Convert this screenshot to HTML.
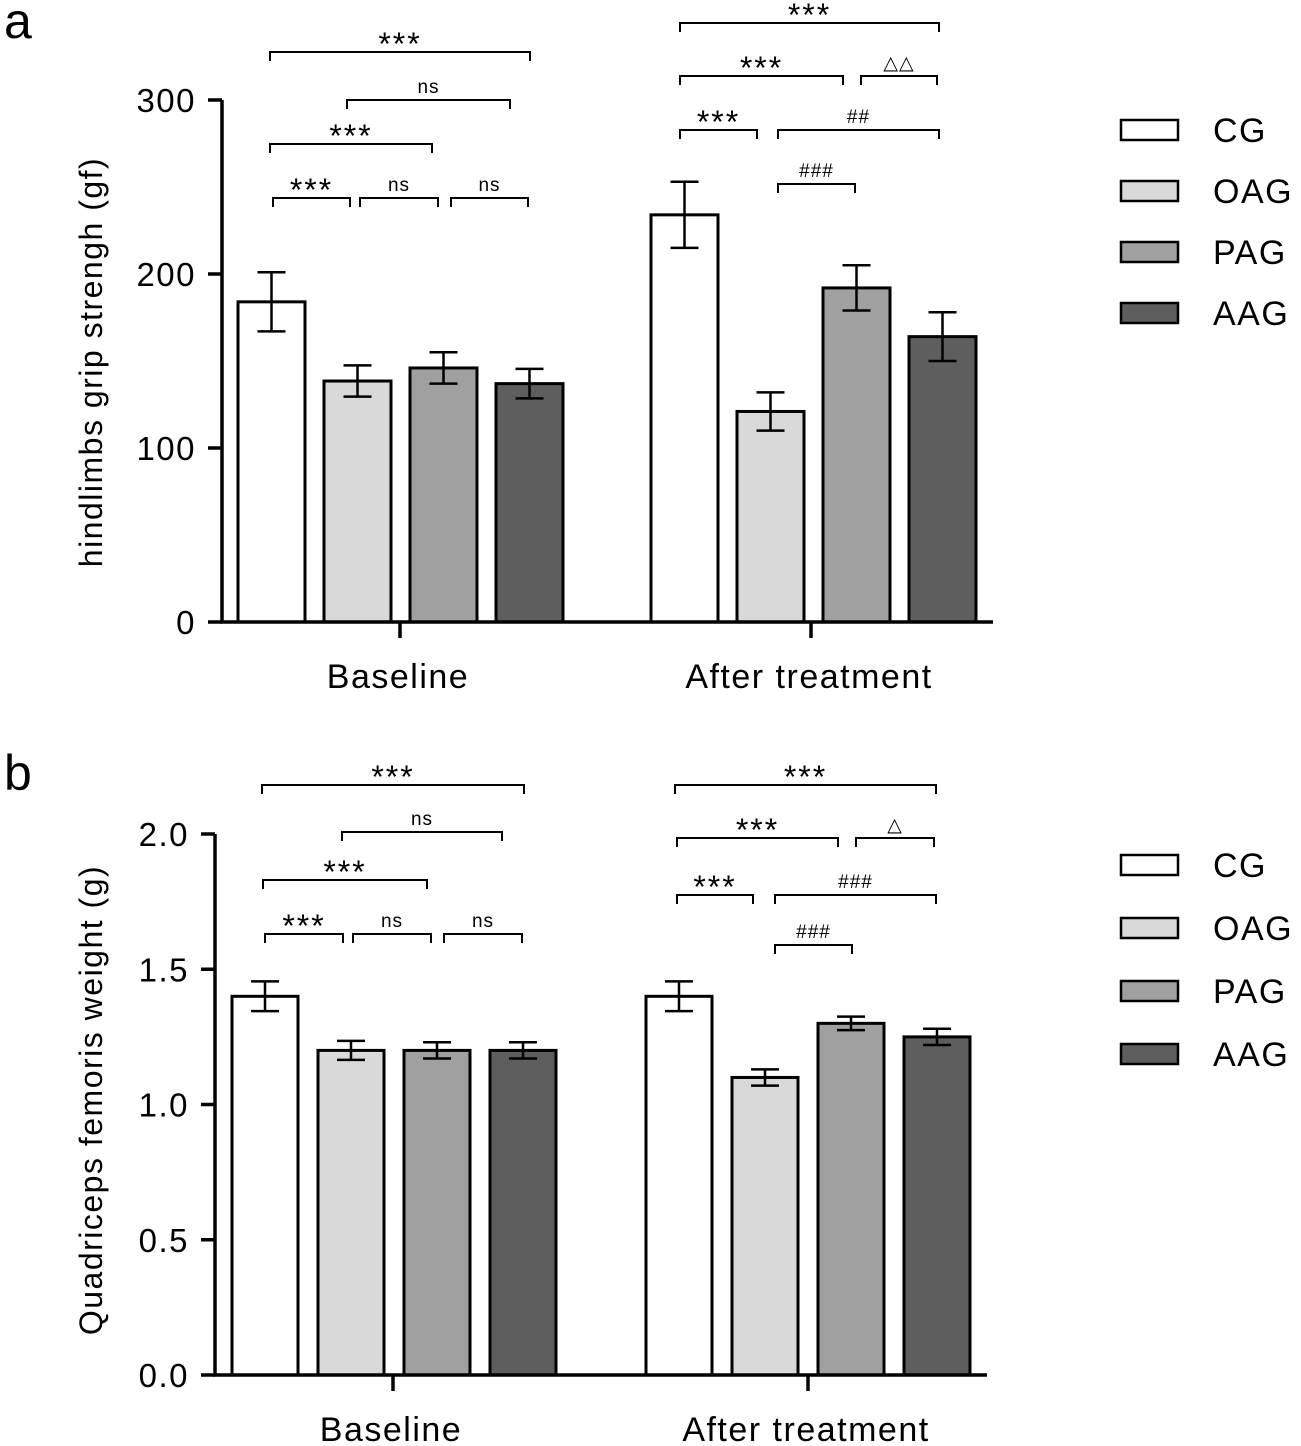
<!DOCTYPE html>
<html><head><meta charset="utf-8"><style>
html,body{margin:0;padding:0;background:#fff;}
svg{display:block;font-family:"Liberation Sans","DejaVu Sans",sans-serif;}
</style></head><body>
<svg id="chart" width="1301" height="1446" viewBox="0 0 1301 1446" xmlns="http://www.w3.org/2000/svg"></svg>
<script>
const groups = ["CG","OAG","PAG","AAG"];
const colors = ["#ffffff","#d9d9d9","#a0a0a0","#5e5e5e"];
const categories = ["Baseline","After treatment"];
const gripMeans = [[184,138.5,146,137],[234,121,192,164]];
const gripErr = [[17,9,9,8.5],[19,11,13,14]];
const gripTicks = [0,100,200,300];
const quadMeans = [[1.40,1.20,1.20,1.20],[1.40,1.10,1.30,1.25]];
const quadErr = [[0.055,0.035,0.03,0.03],[0.055,0.03,0.025,0.03]];
const quadTicks = ["0.0","0.5","1.0","1.5","2.0"];

const NS="http://www.w3.org/2000/svg";
const svg=document.getElementById('chart');
function mk(tag,attrs,parent){const e=document.createElementNS(NS,tag);for(const k in attrs)e.setAttribute(k,attrs[k]);(parent||svg).appendChild(e);return e;}

function panel(cfg){
  const g=mk('g',{});
  
  
  const y=v=>cfg.y0-(v-cfg.min)/(cfg.max-cfg.min)*(cfg.y0-cfg.yTop);
  cfg.means.forEach((row,ci)=>{
    row.forEach((v,gi)=>{
      const x=cfg.barX[ci]+gi*cfg.step;
      const r=mk('rect',{x:x,y:y(v),width:cfg.bw,height:cfg.y0-y(v),fill:colors[gi],stroke:'#000','stroke-width':3},g);
      
      
      const cx=x+cfg.bw/2,e=cfg.err[ci][gi];
      const eb=mk('path',{d:`M${cx},${y(v+e)}V${y(v-e)}M${cx-14},${y(v+e)}H${cx+14}M${cx-14},${y(v-e)}H${cx+14}`,stroke:'#000','stroke-width':2.5,fill:'none'},g);
      
      
    });
  });
  const ax=mk('path',{d:`M${cfg.ax},${cfg.yTop}V${cfg.y0}H${cfg.axEnd}`,stroke:'#000','stroke-width':3.5,fill:'none'},g);
  
  
  cfg.ticks.forEach(t=>{
    const v=parseFloat(t),ty=y(v);
    mk('line',{x1:cfg.ax-14,x2:cfg.ax,y1:ty,y2:ty,stroke:'#000','stroke-width':3.5},g);
    const tx=mk('text',{x:cfg.ax-26,y:ty+12,'font-size':33,'letter-spacing':1.5,'text-anchor':'end'},g);
    tx.textContent=t;
    
    
  });
  categories.forEach((c,ci)=>{
    const cx=cfg.catX[ci];
    mk('line',{x1:cx,x2:cx,y1:cfg.y0,y2:cfg.y0+16,stroke:'#000','stroke-width':3.5},g);
    const t=mk('text',{x:cx-2,y:cfg.y0+66,'font-size':34,'letter-spacing':1.5,'text-anchor':'middle'},g);
    t.textContent=c;
    
    
  });
  const yt=mk('text',{transform:`translate(${cfg.titleX},${cfg.titleY}) rotate(-90)`,'font-size':32,'letter-spacing':1.5,'text-anchor':'middle'},g);
  yt.textContent=cfg.title;
  
  
  const pl=mk('text',{x:4,y:cfg.letterY,'font-size':50},g);
  pl.textContent=cfg.letter;
  
  
  cfg.brackets.forEach(b=>{
    const [x1,x2,by,lab]=b;
    const p=mk('path',{d:`M${x1},${by+9}V${by}H${x2}V${by+9}`,stroke:'#000','stroke-width':2,fill:'none'},g);
    
    
    const big=lab==='***';
    const t=mk('text',{x:(x1+x2)/2,y:big?by+3:by-7,'font-size':big?32:19,'letter-spacing':big?2:1,'text-anchor':'middle'},g);
    t.textContent=lab;
    
    
  });
  groups.forEach((gn,gi)=>{
    const ly=cfg.legY+gi*cfg.legStep;
    const r=mk('rect',{x:1121,y:ly-10,width:57,height:20,fill:colors[gi],stroke:'#000','stroke-width':2.5},g);
    
    
    const t=mk('text',{x:1213,y:ly+12,'font-size':34,'letter-spacing':1.5},g);
    t.textContent=gn;
    
    
  });
}

panel({name:'panel-a-grip-strength',min:0,max:300,y0:622,yTop:100,ax:222,axEnd:993,barX:[238,651],step:86,bw:67,
  means:gripMeans,err:gripErr,ticks:gripTicks.map(String),catX:[400,811],title:'hindlimbs grip strengh (gf)',titleX:102,titleY:362,
  letter:'a',letterY:38,legY:130,legStep:61,
  brackets:[[270,530,52,'***'],[347,510,100,'ns'],[270,432,144,'***'],[273,350,198,'***'],[360,438,198,'ns'],[451,528,198,'ns'],
    [680,939,23,'***'],[680,843,76,'***'],[861,937,76,'△△'],[680,757,130,'***'],[778,939,130,'##'],[778,855,184,'###']]});

panel({name:'panel-b-quadriceps-weight',min:0,max:2,y0:1375,yTop:834,ax:215,axEnd:987,barX:[232,646],step:86,bw:66,
  means:quadMeans,err:quadErr,ticks:quadTicks,catX:[393,808],title:'Quadriceps femoris weight (g)',titleX:102,titleY:1100,
  letter:'b',letterY:790,legY:865,legStep:63,
  brackets:[[262,524,785,'***'],[342,502,832,'ns'],[263,427,880,'***'],[265,343,934,'***'],[353,431,934,'ns'],[444,522,934,'ns'],
    [675,936,785,'***'],[677,838,838,'***'],[856,934,838,'△'],[677,753,895,'***'],[775,936,895,'###'],[775,852,945,'###']]});
</script>
</body></html>
